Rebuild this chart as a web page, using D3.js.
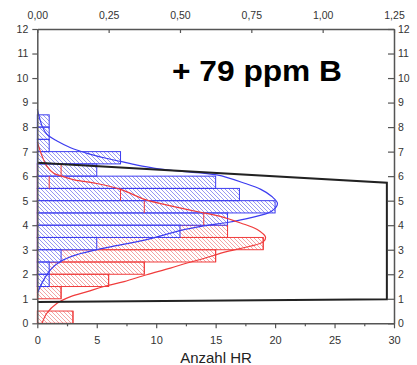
<!DOCTYPE html>
<html><head><meta charset="utf-8">
<script src="https://cdn.jsdelivr.net/npm/d3@7"></script>
<style>body{margin:0;background:#fff}svg{display:block}text{font-family:"Liberation Sans",Arial,sans-serif}</style>
</head><body><svg id="c" width="417" height="365"></svg>
<script>
const binStarts = [0,0.5,1,1.5,2,2.5,3,3.5,4,4.5,5,5.5,6,6.5,7,7.5,8];
const redCounts = [3,0,2,6,9,15,19,16,14,9,7,1,2,0,0,0,0];
const blueCounts = [0,0,0,1,1,2,5,12,16,20,17,15,5,7,1,1,1];
const binWidth = 0.5;
// fitted curves: [count, value]
const blueCurve = [[0,1.23],[0.54,1.77],[1.1,2.18],[1.94,2.52],[3.34,2.8],[5.0,3.0],[7.0,3.2],[9.2,3.41],[12.0,3.78],[14.0,3.97],[16.1,4.12],[17.9,4.3],[19.7,4.57],[20.2,4.88],[19.7,5.18],[18.8,5.46],[17.5,5.7],[15.1,6.05],[12.0,6.2],[9.9,6.32],[8.4,6.45],[7.0,6.6],[5.6,6.75],[4.2,6.93],[2.8,7.16],[1.66,7.43],[0.8,7.71],[0.4,8.05],[0,8.73]];
const redCurve = [[0.4,0],[0.8,0.41],[1.66,0.82],[2.8,1.09],[4.2,1.29],[5.6,1.5],[7.3,1.7],[9.2,1.98],[11.2,2.25],[12.6,2.46],[13.7,2.6],[16.0,2.93],[17.9,3.14],[19.0,3.32],[19.2,3.5],[18.5,3.82],[17.1,4.09],[15.4,4.36],[14.0,4.5],[11.5,4.76],[9.1,5.04],[7.0,5.46],[5.0,5.7],[3.1,5.85],[2.05,6.0],[1.38,6.12],[0.8,6.41],[0.4,6.82],[0,7.4]];
// outline drawn in top-axis units
const outline = [[0,6.55],[1.225,5.73],[1.225,0.98],[0,0.87]];
const bottomTicks = [0,5,10,15,20,25,30];
const bottomMinor = [2.5,7.5,12.5,17.5,22.5,27.5];
const topTicks = [0,0.25,0.5,0.75,1.0,1.25];
const yTicks = [0,1,2,3,4,5,6,7,8,9,10,11,12];
const titleText = "+ 79 ppm B";
const xLabel = "Anzahl HR";

const svg = d3.select("#c");
const x = d3.scaleLinear([0,30],[37.3,394]);
const xTop = d3.scaleLinear([0,1.25],[37.3,394]);
const y = d3.scaleLinear([0,12],[323.3,29]);

const defs = svg.append("defs");
function hatch(id,color){
  const p = defs.append("pattern").attr("id",id).attr("patternUnits","userSpaceOnUse")
    .attr("width",4).attr("height",4);
  p.append("path").attr("d","M-1,-1 L5,5 M3,-1 L5,1 M-1,3 L1,5")
    .attr("stroke",color).attr("stroke-width",0.9);
}
hatch("hb","#8c8cf0");
hatch("hr","#f29a9a");

const red = binStarts.map((s,i)=>({s,c:redCounts[i]})).filter(d=>d.c>0);
const blue = binStarts.map((s,i)=>({s,c:blueCounts[i]})).filter(d=>d.c>0);

function bars(data,pat,stroke){
  const g = svg.append("g");
  g.selectAll("rect.bg").data(data).join("rect")
    .attr("x",x(0)).attr("y",d=>y(d.s+binWidth)).attr("width",d=>x(d.c)-x(0))
    .attr("height",d=>y(d.s)-y(d.s+binWidth)).attr("fill","#fff");
  g.selectAll("rect.fg").data(data).join("rect")
    .attr("x",x(0)).attr("y",d=>y(d.s+binWidth)).attr("width",d=>x(d.c)-x(0))
    .attr("height",d=>y(d.s)-y(d.s+binWidth)).attr("fill",`url(#${pat})`)
    .attr("stroke",stroke).attr("stroke-width",1);
}
bars(red,"hr","#f03c3c");
bars(blue,"hb","#3c3cf0");
svg.append("g").selectAll("line").data(red).join("line")
  .attr("x1",d=>x(d.c)).attr("x2",d=>x(d.c)).attr("y1",d=>y(d.s)).attr("y2",d=>y(d.s+binWidth))
  .attr("stroke","#f03c3c").attr("stroke-width",1);

const line = d3.line().x(d=>x(d[0])).y(d=>y(d[1])).curve(d3.curveCatmullRom);
svg.append("path").attr("d",line(blueCurve)).attr("fill","none").attr("stroke","#3c3cf0").attr("stroke-width",1.2);
svg.append("path").attr("d",line(redCurve)).attr("fill","none").attr("stroke","#f03c3c").attr("stroke-width",1.2);

svg.append("path").attr("d",d3.line().x(d=>xTop(d[0])).y(d=>y(d[1]))(outline))
  .attr("fill","none").attr("stroke","#222").attr("stroke-width",2);

const axCol = "#555", txtCol = "#333";
function style(g,fs){
  g.select(".domain").attr("stroke",axCol).attr("stroke-width",1.5);
  g.selectAll(".tick line").attr("stroke",axCol).attr("stroke-width",1.2);
  g.selectAll("text").attr("fill",txtCol).style("font-size",fs+"px").attr("font-family",null);
}
const gb = svg.append("g").attr("transform",`translate(0,${y(0)})`)
  .call(d3.axisBottom(x).tickValues(bottomTicks).tickSizeInner(5).tickSizeOuter(0).tickPadding(8));
style(gb,11);
const gbm = svg.append("g").attr("transform",`translate(0,${y(0)})`)
  .call(d3.axisBottom(x).tickValues(bottomMinor).tickSizeInner(3).tickSizeOuter(0).tickFormat(""));
style(gbm,11); gbm.select(".domain").remove();
const gl = svg.append("g").attr("transform",`translate(${x(0)},0)`)
  .call(d3.axisLeft(y).tickValues(yTicks).tickSizeInner(5).tickSizeOuter(0).tickPadding(4));
style(gl,10.5);
const gr = svg.append("g").attr("transform",`translate(${x(30)},0)`)
  .call(d3.axisRight(y).tickValues(yTicks).tickSizeInner(-6).tickSizeOuter(0).tickPadding(4));
style(gr,10.5);
const fmt = d => d3.format(".2f")(d).replace(".",",");
const gt = svg.append("g").attr("transform",`translate(0,${y(12)})`)
  .call(d3.axisTop(xTop).tickValues(topTicks).tickSizeInner(-4).tickSizeOuter(0).tickPadding(10).tickFormat(fmt));
style(gt,10.5);

svg.append("text").attr("x",172).attr("y",81).attr("font-size",30).attr("font-weight","bold")
  .attr("textLength",170).attr("lengthAdjust","spacingAndGlyphs").attr("fill","#000").text(titleText);
svg.append("text").attr("x",216).attr("y",363).attr("text-anchor","middle").attr("font-size",15)
  .attr("fill","#222").text(xLabel);
</script></body></html>
